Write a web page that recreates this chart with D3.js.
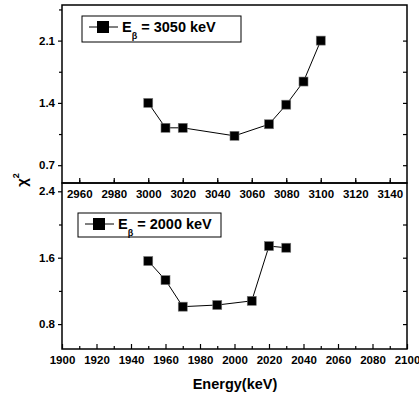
<!DOCTYPE html>
<html>
<head>
<meta charset="utf-8">
<script src="https://cdn.jsdelivr.net/npm/d3@7"></script>
<style>
  body { margin: 0; background: #fff; }
  text { font-family: "Liberation Sans", Arial, sans-serif; font-weight: bold; }
</style>
</head>
<body>
<svg width="419" height="398"></svg>
<script>
// top panel (E_beta = 3050 keV)
const topEnergy = [3000, 3010, 3020, 3050, 3070, 3080, 3090, 3100];
const topChi2 = [1.40, 1.12, 1.12, 1.03, 1.16, 1.38, 1.64, 2.10];
const topTicksX = [2960, 2980, 3000, 3020, 3040, 3060, 3080, 3100, 3120, 3140];
const topTicksY = [0.7, 1.4, 2.1];
const topLegend = "3050 keV";

// bottom panel (E_beta = 2000 keV)
const botEnergy = [1950, 1960, 1970, 1990, 2010, 2020, 2030];
const botChi2 = [1.56, 1.33, 1.01, 1.03, 1.08, 1.74, 1.72];
const botTicksX = [1900, 1920, 1940, 1960, 1980, 2000, 2020, 2040, 2060, 2080, 2100];
const botTicksY = [0.8, 1.6, 2.4];
const botLegend = "2000 keV";

const svg = d3.select("svg");
const left = 62, right = 407;

function panel(opt) {
    const x = d3.scaleLinear().domain(opt.xDomain).range([left, right]);
    const y = d3.scaleLinear().domain([0.5, 2.5]).range([opt.y1, opt.y0]);
    const g = svg.append("g");

    // minor ticks
    const minorX = d3.range(opt.xDomain[0] + 10, opt.xDomain[1], 20);
    const step = opt.yTicks[1] - opt.yTicks[0];
    const minorY = d3.range(opt.yTicks[0] - step / 2, 2.5, step).filter(v => v > 0.5);

    const styleAxis = sel => {
        sel.select(".domain").remove();
        sel.selectAll("line").attr("stroke", "#000").attr("stroke-width", 1.2);
        sel.selectAll("text").attr("fill", "#000").style("font-size", "11.5px");
    };

    g.append("g").attr("transform", `translate(0,${opt.y1})`)
        .call(d3.axisBottom(x).tickValues(opt.xTicks).tickSizeInner(-5).tickPadding(7).tickFormat(d3.format("d")))
        .call(styleAxis);
    g.append("g").attr("transform", `translate(0,${opt.y1})`)
        .call(d3.axisBottom(x).tickValues(minorX).tickSizeInner(-3).tickFormat(""))
        .call(styleAxis);

    g.append("g").attr("transform", `translate(${left},0)`)
        .call(d3.axisLeft(y).tickValues(opt.yTicks).tickSizeInner(4).tickPadding(3).tickFormat(d3.format(".1f")))
        .call(styleAxis);
    g.append("g").attr("transform", `translate(${left},0)`)
        .call(d3.axisLeft(y).tickValues(minorY).tickSizeInner(3).tickFormat(""))
        .call(styleAxis);

    const rightTicks = opt.yTicks.concat(minorY).filter(v => y(v) - opt.y0 > 10);
    g.append("g").attr("transform", `translate(${right},0)`)
        .call(d3.axisRight(y).tickValues(rightTicks).tickSizeInner(-4).tickFormat(""))
        .call(styleAxis);

    // frame
    g.append("rect").attr("x", left).attr("y", opt.y0)
        .attr("width", right - left).attr("height", opt.y1 - opt.y0)
        .attr("fill", "none").attr("stroke", "#000").attr("stroke-width", 1.5);

    // data line + markers
    const pts = opt.xs.map((d, i) => [x(d), y(opt.ys[i])]);
    g.append("path").attr("d", d3.line()(pts))
        .attr("fill", "none").attr("stroke", "#000").attr("stroke-width", 1);
    g.selectAll("rect.pt").data(pts).enter().append("rect")
        .attr("class", "pt")
        .attr("x", d => d[0] - 4.5).attr("y", d => d[1] - 4.5)
        .attr("width", 9).attr("height", 9)
        .attr("fill", "#000").attr("stroke", "#777").attr("stroke-width", 0.6);

    // legend
    const lg = g.append("g").attr("transform", `translate(${opt.lx},${opt.ly})`);
    lg.append("rect").attr("x", 0).attr("y", 0).attr("width", opt.lw).attr("height", opt.lh)
        .attr("fill", "#fff").attr("stroke", "#000").attr("stroke-width", 1);
    lg.append("line").attr("x1", 7).attr("x2", 36).attr("y1", 11).attr("y2", 11)
        .attr("stroke", "#000").attr("stroke-width", 1);
    lg.append("rect").attr("x", 15).attr("y", 5).attr("width", 12).attr("height", 12)
        .attr("fill", "#000");
    const t = lg.append("text").attr("x", 40).attr("y", 16).style("font-size", "14.5px");
    t.append("tspan").text("E");
    t.append("tspan").attr("dy", 7).style("font-size", "9px").text("β");
    t.append("tspan").attr("dy", -7).text(" = " + opt.legend);
}

panel({ xDomain: [2950, 3150], y0: 5, y1: 183, xs: topEnergy, ys: topChi2,
        xTicks: topTicksX, yTicks: topTicksY, legend: topLegend, lx: 82, ly: 16, lw: 159, lh: 26 });
panel({ xDomain: [1900, 2100], y0: 183, y1: 349, xs: botEnergy, ys: botChi2,
        xTicks: botTicksX, yTicks: botTicksY, legend: botLegend, lx: 78, ly: 213, lw: 143, lh: 24 });

// axis titles
svg.append("text").attr("x", 235).attr("y", 389).attr("text-anchor", "middle")
    .style("font-size", "14.5px").text("Energy(keV)");
const yl = svg.append("text").attr("transform", "translate(27,180) rotate(-90)")
    .attr("text-anchor", "middle").style("font-size", "15px");
yl.append("tspan").text("χ");
yl.append("tspan").attr("dy", -8).style("font-size", "9px").text("2");
</script>
</body>
</html>
